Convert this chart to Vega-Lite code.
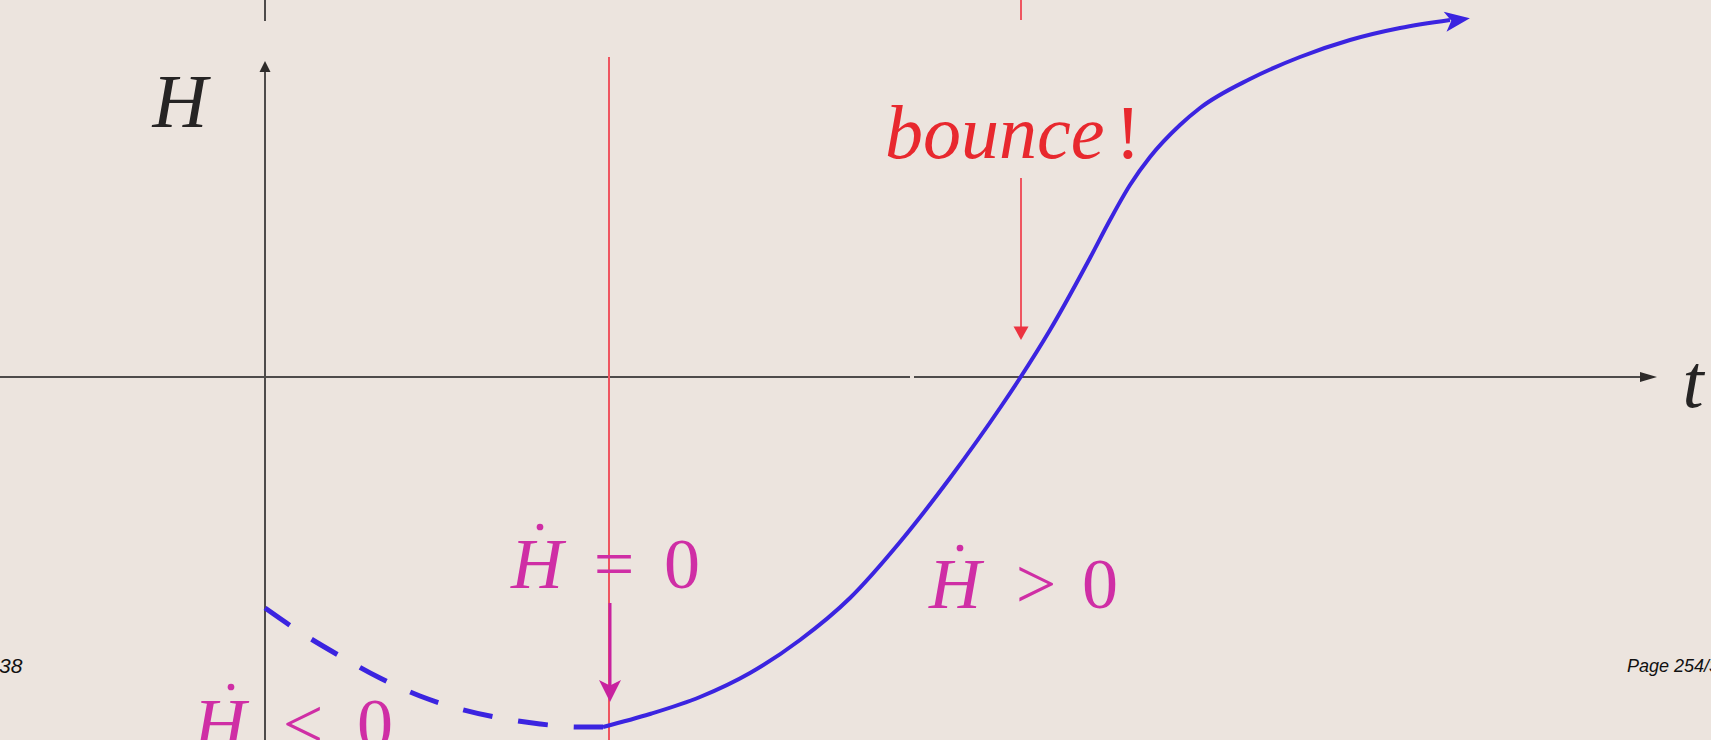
{
  "$schema": "https://vega.github.io/schema/vega-lite/v6.json",
  "width": 1711,
  "height": 740,
  "autosize": "none",
  "padding": 0,
  "background": "#ece4de",
  "config": {"view": {"stroke": null}},
  "datasets": {
    "axes": [
      {"seg": "v", "t": 0, "H": 3.08},
      {"seg": "v", "t": 0, "H": -3.63},
      {"seg": "vstub", "t": 0, "H": 3.77},
      {"seg": "vstub", "t": 0, "H": 3.56},
      {"seg": "h1", "t": -2.65, "H": 0},
      {"seg": "h1", "t": 6.45, "H": 0},
      {"seg": "h2", "t": 6.49, "H": 0},
      {"seg": "h2", "t": 13.8, "H": 0}
    ],
    "red": [
      {"seg": "main", "t": 3.44, "H": 3.2},
      {"seg": "main", "t": 3.44, "H": -3.63},
      {"seg": "stub", "t": 7.56, "H": 3.77},
      {"seg": "stub", "t": 7.56, "H": 3.57},
      {"seg": "arrow", "t": 7.56, "H": 1.99},
      {"seg": "arrow", "t": 7.56, "H": 0.45}
    ],
    "magenta": [
      {"t": 3.45, "H": -2.26},
      {"t": 3.45, "H": -3.12}
    ],
    "dashed": [
      {"t": 0.0, "H": -2.31},
      {"t": 0.35, "H": -2.55},
      {"t": 0.75, "H": -2.79},
      {"t": 1.15, "H": -3.01},
      {"t": 1.55, "H": -3.19},
      {"t": 1.95, "H": -3.32},
      {"t": 2.35, "H": -3.41},
      {"t": 2.75, "H": -3.47},
      {"t": 3.15, "H": -3.5},
      {"t": 3.38, "H": -3.5}
    ],
    "solid": [
      {"t": 3.38, "H": -3.5},
      {"t": 3.85, "H": -3.37},
      {"t": 4.35, "H": -3.2},
      {"t": 4.85, "H": -2.96},
      {"t": 5.35, "H": -2.63},
      {"t": 5.85, "H": -2.21},
      {"t": 6.35, "H": -1.65},
      {"t": 6.85, "H": -1.01},
      {"t": 7.35, "H": -0.31},
      {"t": 7.55, "H": -0.01},
      {"t": 7.85, "H": 0.47},
      {"t": 8.25, "H": 1.19},
      {"t": 8.45, "H": 1.57},
      {"t": 8.65, "H": 1.92},
      {"t": 8.85, "H": 2.2},
      {"t": 9.15, "H": 2.52},
      {"t": 9.35, "H": 2.69},
      {"t": 9.85, "H": 2.98},
      {"t": 10.35, "H": 3.2},
      {"t": 10.85, "H": 3.37},
      {"t": 11.35, "H": 3.49},
      {"t": 11.85, "H": 3.57}
    ]
  },
  "encoding": {
    "x": {"field": "t", "type": "quantitative", "scale": {"domain": [-2.65, 14.46], "nice": false, "zero": false}, "axis": null},
    "y": {"field": "H", "type": "quantitative", "scale": {"domain": [-3.63, 3.77], "nice": false, "zero": false}, "axis": null}
  },
  "layer": [
    {
      "data": {"name": "axes"},
      "mark": {"type": "line", "color": "#4e4b4a", "strokeWidth": 2},
      "encoding": {"detail": {"field": "seg"}}
    },
    {
      "data": {"values": [{"t": 0, "H": 3.105}]},
      "mark": {"type": "point", "shape": "M0,-1L1,1L-1,1Z", "size": 121, "filled": true, "color": "#2e2b2a", "opacity": 1}
    },
    {
      "data": {"values": [{"t": 13.835, "H": 0}]},
      "mark": {"type": "point", "shape": "M1,0L-1,-0.6L-1,0.6Z", "size": 289, "filled": true, "color": "#2e2b2a", "opacity": 1}
    },
    {
      "data": {"name": "red"},
      "mark": {"type": "line", "color": "#ef5560", "strokeWidth": 2},
      "encoding": {"detail": {"field": "seg"}}
    },
    {
      "data": {"values": [{"t": 7.56, "H": 0.445}]},
      "mark": {"type": "point", "shape": "M0,1L-1,-0.8L1,-0.8Z", "size": 225, "filled": true, "color": "#ec3340", "opacity": 1}
    },
    {
      "data": {"name": "magenta"},
      "mark": {"type": "line", "color": "#c8229f", "strokeWidth": 3}
    },
    {
      "data": {"values": [{"t": 3.45, "H": -3.14}]},
      "mark": {"type": "point", "shape": "M0,1L-1,-1L0,-0.5L1,-1Z", "size": 484, "filled": true, "color": "#c8229f", "opacity": 1}
    },
    {
      "data": {"name": "dashed"},
      "mark": {"type": "line", "color": "#3b24e0", "strokeWidth": 5, "strokeDash": [30, 26], "interpolate": "monotone"}
    },
    {
      "data": {"name": "solid"},
      "mark": {"type": "line", "color": "#3b24e0", "strokeWidth": 4, "interpolate": "monotone"}
    },
    {
      "data": {"values": [{"t": 11.925, "H": 3.57}]},
      "mark": {"type": "point", "shape": "M1,0L-1,-0.8L-0.5,0L-1,0.8Z", "size": 625, "filled": true, "color": "#3b24e0", "opacity": 1, "angle": -8}
    },
    {
      "data": {"values": [{"label": "H", "t": -0.85, "H": 2.5}, {"label": "t", "t": 14.28, "H": -0.3}]},
      "mark": {"type": "text", "font": "Liberation Serif", "fontStyle": "italic", "fontSize": 76, "color": "#262424", "align": "center", "baseline": "alphabetic"},
      "encoding": {"text": {"field": "label"}}
    },
    {
      "data": {"values": [{"label": "bounce", "t": 6.2, "H": 2.19}]},
      "mark": {"type": "text", "font": "Liberation Serif", "fontStyle": "italic", "fontSize": 76, "color": "#e8282e", "align": "left", "baseline": "alphabetic"},
      "encoding": {"text": {"field": "label"}}
    },
    {
      "data": {"values": [{"label": "!", "t": 8.63, "H": 2.19}]},
      "mark": {"type": "text", "font": "Liberation Serif", "fontSize": 76, "color": "#e8282e", "align": "center", "baseline": "alphabetic"},
      "encoding": {"text": {"field": "label"}}
    },
    {
      "data": {"values": [
        {"label": "H", "t": 2.72, "H": -2.11},
        {"label": "H", "t": 6.9, "H": -2.31},
        {"label": "H", "t": -0.45, "H": -3.71}
      ]},
      "mark": {"type": "text", "font": "Liberation Serif", "fontStyle": "italic", "fontSize": 72, "color": "#cf2ea5", "align": "center", "baseline": "alphabetic"},
      "encoding": {"text": {"field": "label"}}
    },
    {
      "data": {"values": [
        {"label": "=", "t": 3.49, "H": -2.11},
        {"label": "0", "t": 4.17, "H": -2.11},
        {"label": ">", "t": 7.71, "H": -2.31},
        {"label": "0", "t": 8.35, "H": -2.31},
        {"label": "<", "t": 0.38, "H": -3.71},
        {"label": "0", "t": 1.1, "H": -3.71}
      ]},
      "mark": {"type": "text", "font": "Liberation Serif", "fontSize": 72, "color": "#cf2ea5", "align": "center", "baseline": "alphabetic"},
      "encoding": {"text": {"field": "label"}}
    },
    {
      "data": {"values": [
        {"t": 2.75, "H": -1.5},
        {"t": 6.95, "H": -1.71},
        {"t": -0.34, "H": -3.1}
      ]},
      "mark": {"type": "point", "shape": "circle", "size": 45, "filled": true, "color": "#cf2ea5", "opacity": 1}
    },
    {
      "data": {"values": [
        {"label": "38", "t": -2.66, "H": -2.96}
      ]},
      "mark": {"type": "text", "font": "Liberation Sans", "fontStyle": "italic", "fontSize": 21, "color": "#111111", "align": "left", "baseline": "alphabetic"},
      "encoding": {"text": {"field": "label"}}
    },
    {
      "data": {"values": [
        {"label": "Page 254/338", "t": 13.62, "H": -2.95}
      ]},
      "mark": {"type": "text", "font": "Liberation Sans", "fontStyle": "italic", "fontSize": 18, "color": "#111111", "align": "left", "baseline": "alphabetic"},
      "encoding": {"text": {"field": "label"}}
    }
  ]
}
